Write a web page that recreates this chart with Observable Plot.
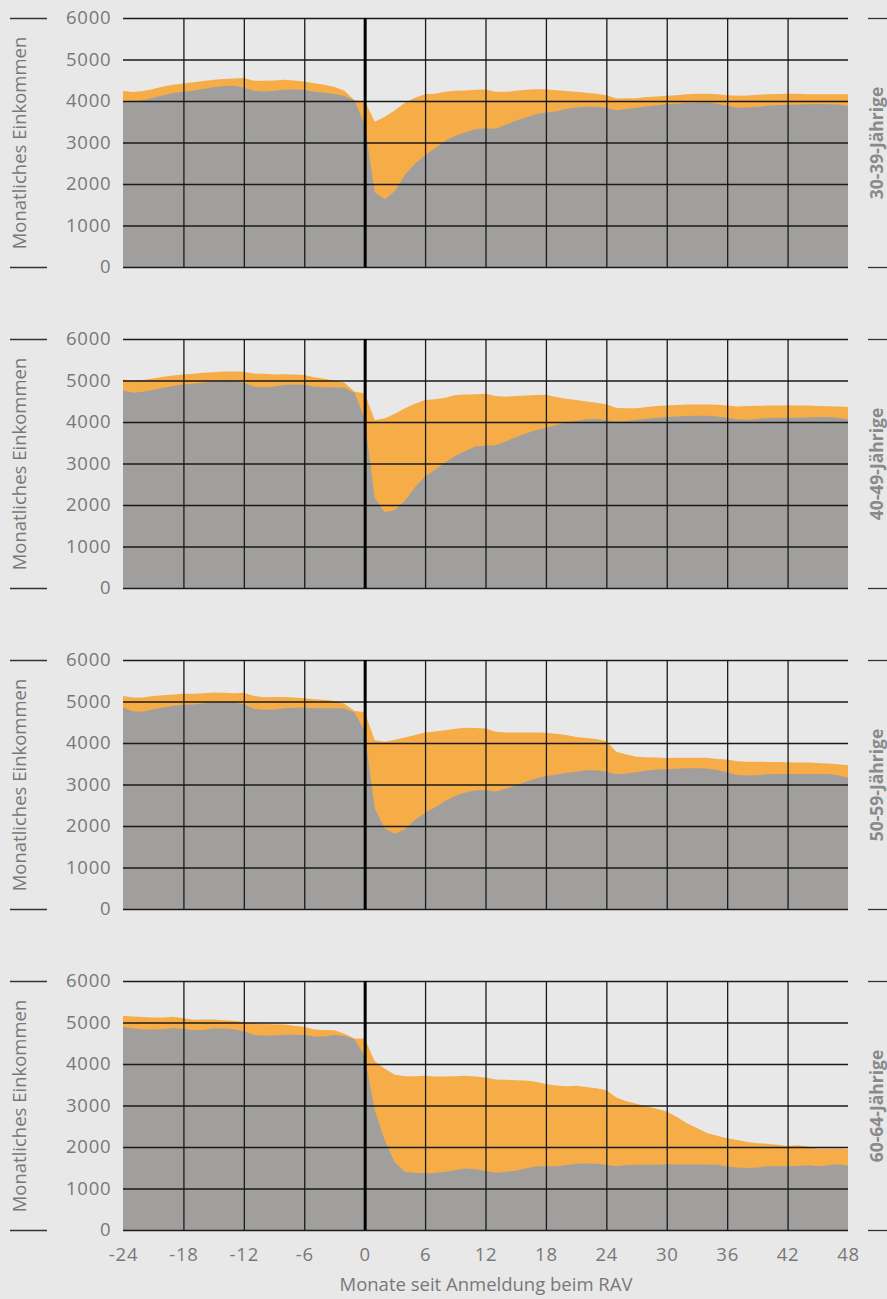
<!DOCTYPE html>
<html><head><meta charset="utf-8">
<script src="https://cdn.jsdelivr.net/npm/d3@7"></script>
<script src="https://cdn.jsdelivr.net/npm/@observablehq/plot@0.6"></script>
<style>
html,body{margin:0;padding:0;background:#e8e8e8;}
svg g[aria-label="y-axis tick label"] text, svg g[aria-label="x-axis tick label"] text{letter-spacing:0.8px;}
</style></head><body><div id="chart"></div>
<script>
const ageGroups = ["30-39-Jährige", "40-49-Jährige", "50-59-Jährige", "60-64-Jährige"];
const months = d3.range(-24, 49);
const xTicks = [-24, -18, -12, -6, 0, 6, 12, 18, 24, 30, 36, 42, 48];
const yTicks = [0, 1000, 2000, 3000, 4000, 5000, 6000];
const vGrid = [-18, -12, -6, 6, 12, 18, 24, 30, 36, 42];
const yLabel = "Monatliches Einkommen";
const xLabel = "Monate seit Anmeldung beim RAV";

// gray: Erwerbseinkommen, orange top: Gesamteinkommen (months -24 .. 48)
const erwerb3039 = [
  4000, 3980, 4020, 4080, 4140, 4190, 4220, 4250, 4290, 4330, 4360, 4370,
  4320, 4250, 4230, 4250, 4270, 4280, 4270, 4220, 4200, 4170, 4120, 4010,
  3420, 1800, 1630, 1830, 2220, 2490, 2690, 2860, 3040, 3160, 3250, 3320,
  3345, 3330, 3425, 3525, 3605, 3680, 3720, 3745, 3805, 3845, 3860, 3860,
  3840, 3780, 3805, 3840, 3870, 3895, 3920, 3935, 3950, 3960, 3965, 3935,
  3885, 3840, 3845, 3860, 3885, 3900, 3910, 3915, 3920, 3925, 3920, 3915,
  3880];
const total3039 = [
  4240, 4215, 4240, 4290, 4350, 4390, 4420, 4450, 4480, 4510, 4530, 4545,
  4555, 4490, 4485, 4495, 4510, 4495, 4470, 4430, 4390, 4340, 4245, 4015,
  4000, 3500, 3620, 3780, 3960, 4080, 4160, 4175, 4220, 4245, 4255, 4270,
  4280, 4220, 4220, 4245, 4270, 4285, 4285, 4260, 4240, 4220, 4200, 4175,
  4140, 4060, 4065, 4065, 4095, 4110, 4125, 4140, 4160, 4175, 4175, 4165,
  4140, 4125, 4135, 4150, 4160, 4170, 4175, 4175, 4165, 4165, 4165, 4165,
  4165];
const erwerb4049 = [
  4760, 4705, 4730, 4770, 4825, 4865, 4905, 4920, 4945, 4975, 4985, 4985,
  4945, 4855, 4840, 4855, 4890, 4905, 4895, 4850, 4840, 4840, 4825, 4705,
  4065, 2170, 1825, 1880, 2105, 2425, 2690, 2850, 3025, 3185, 3300, 3410,
  3430, 3440, 3530, 3630, 3720, 3800, 3855, 3930, 3985, 4025, 4065, 4070,
  4040, 4015, 4025, 4055, 4080, 4105, 4120, 4135, 4145, 4150, 4150, 4135,
  4105, 4065, 4055, 4080, 4095, 4105, 4105, 4105, 4110, 4120, 4120, 4105,
  4065];
const total4049 = [
  5025, 5000, 5015, 5050, 5090, 5120, 5145, 5160, 5185, 5200, 5215, 5215,
  5210, 5170, 5160, 5145, 5150, 5145, 5130, 5080, 5040, 5000, 4945, 4730,
  4695, 4040, 4090, 4200, 4330, 4440, 4530, 4550, 4585, 4650, 4665, 4670,
  4680, 4625, 4610, 4625, 4640, 4650, 4655, 4600, 4560, 4530, 4495, 4465,
  4430, 4335, 4330, 4330, 4360, 4385, 4400, 4410, 4420, 4420, 4420, 4415,
  4400, 4375, 4385, 4390, 4395, 4400, 4405, 4400, 4400, 4385, 4380, 4375,
  4360];
const erwerb5059 = [
  4855, 4760, 4760, 4815, 4855, 4895, 4920, 4930, 4950, 4975, 4985, 4975,
  4935, 4825, 4800, 4810, 4840, 4850, 4855, 4840, 4840, 4840, 4830, 4735,
  4280, 2425, 1935, 1815, 1920, 2145, 2320, 2450, 2600, 2720, 2810, 2860,
  2865, 2830, 2895, 2975, 3065, 3145, 3200, 3240, 3280, 3310, 3345, 3345,
  3305, 3250, 3265, 3295, 3335, 3360, 3370, 3380, 3390, 3390, 3385, 3350,
  3295, 3230, 3215, 3225, 3250, 3255, 3255, 3255, 3255, 3255, 3255, 3225,
  3160];
const total5059 = [
  5135, 5095, 5095, 5130, 5150, 5170, 5185, 5185, 5200, 5215, 5210, 5200,
  5210, 5130, 5105, 5110, 5110, 5095, 5080, 5055, 5040, 5010, 4945, 4770,
  4750, 4065, 4030, 4080, 4135, 4190, 4255, 4280, 4305, 4345, 4370, 4360,
  4350, 4270, 4255, 4255, 4255, 4255, 4250, 4225, 4190, 4145, 4120, 4095,
  4040, 3790, 3720, 3670, 3655, 3650, 3640, 3645, 3645, 3645, 3645, 3615,
  3600, 3560, 3550, 3550, 3545, 3545, 3535, 3530, 3530, 3520, 3505, 3490,
  3465];
const erwerb6064 = [
  4900, 4855, 4830, 4830, 4840, 4870, 4845, 4820, 4820, 4855, 4855, 4840,
  4790, 4700, 4685, 4685, 4705, 4705, 4700, 4660, 4665, 4700, 4675, 4595,
  4185, 2885, 2155, 1625, 1405, 1380, 1365, 1375, 1405, 1440, 1480, 1465,
  1430, 1380, 1400, 1430, 1480, 1530, 1535, 1535, 1560, 1595, 1600, 1595,
  1570, 1535, 1560, 1575, 1575, 1570, 1585, 1580, 1580, 1580, 1580, 1570,
  1530, 1505, 1495, 1505, 1535, 1535, 1535, 1545, 1560, 1535, 1560, 1585,
  1555];
const total6064 = [
  5160, 5145, 5130, 5120, 5120, 5140, 5105, 5065, 5075, 5075, 5055, 5040,
  5015, 4985, 4965, 4960, 4950, 4920, 4895, 4830, 4820, 4815, 4730, 4615,
  4615, 4065, 3885, 3740, 3705, 3705, 3715, 3700, 3700, 3705, 3715, 3700,
  3675, 3625, 3620, 3610, 3600, 3575, 3520, 3480, 3465, 3475, 3445, 3415,
  3365, 3195, 3105, 3040, 2975, 2920, 2855, 2725, 2575, 2455, 2335, 2270,
  2210, 2170, 2120, 2090, 2080, 2055, 2025, 2040, 2015, 1960, 1960, 1965,
  1945];

const erwerbSeries = [erwerb3039, erwerb4049, erwerb5059, erwerb6064];
const totalSeries = [total3039, total4049, total5059, total6064];
const rows = ageGroups.flatMap((age, g) => months.map((m, i) => ({
  age, m, erwerb: erwerbSeries[g][i], total: totalSeries[g][i]
})));

// decorative bracket positions (pixels -> x data units)
const xpx = px => -24 + (px - 123) * 72 / 725;

const chart = Plot.plot({
  width: 887, height: 1299,
  marginLeft: 123, marginRight: 39, marginTop: 16, marginBottom: 67,
  style: {background: "#e8e8e8", color: "#787878", fontFamily: "'Open Sans', sans-serif", fontSize: "18.5px"},
  x: {domain: [-24, 48]},
  y: {domain: [0, 6000]},
  fy: {domain: ageGroups, paddingInner: 0.2236, paddingOuter: 0, axis: null},
  marks: [
    Plot.areaY(rows, {x: "m", y: "total", fy: "age", fill: "#f6ad47"}),
    Plot.areaY(rows, {x: "m", y: "erwerb", fy: "age", fill: "#a09f9d"}),
    Plot.ruleY(yTicks, {stroke: "#1a1a1a", strokeWidth: 1.3}),
    Plot.ruleX(vGrid, {stroke: "#1a1a1a", strokeWidth: 1.3}),
    Plot.ruleX([0], {stroke: "#000", strokeWidth: 3}),
    Plot.ruleY([0, 6000], {x1: xpx(10), x2: xpx(47), stroke: "#333", strokeWidth: 1.3}),
    Plot.ruleY([0, 6000], {x1: xpx(868), x2: xpx(887), stroke: "#333", strokeWidth: 1.3}),
    Plot.axisY({ticks: yTicks, tickSize: 0, tickPadding: 12, tickFormat: d => String(d), label: null}),
    Plot.axisX({ticks: xTicks, tickSize: 0, tickPadding: 17, tickFormat: d => String(d), label: null}),
    Plot.text([yLabel], {text: d => d, frameAnchor: "left", dx: -103, rotate: -90, textAnchor: "middle", lineAnchor: "middle", fill: "#787878"}),
    Plot.text(ageGroups, {fy: d => d, text: d => d, frameAnchor: "right", dx: 29, rotate: -90, textAnchor: "middle", lineAnchor: "middle", fontWeight: "bold", fill: "#8a8a8a", fontSize: 17.5}),
    Plot.text([ageGroups[3]], {fy: d => d, text: () => xLabel, frameAnchor: "bottom", dy: 55, textAnchor: "middle", lineAnchor: "middle", fill: "#787878"})
  ]
});
document.getElementById("chart").appendChild(chart);
</script>
</body></html>
